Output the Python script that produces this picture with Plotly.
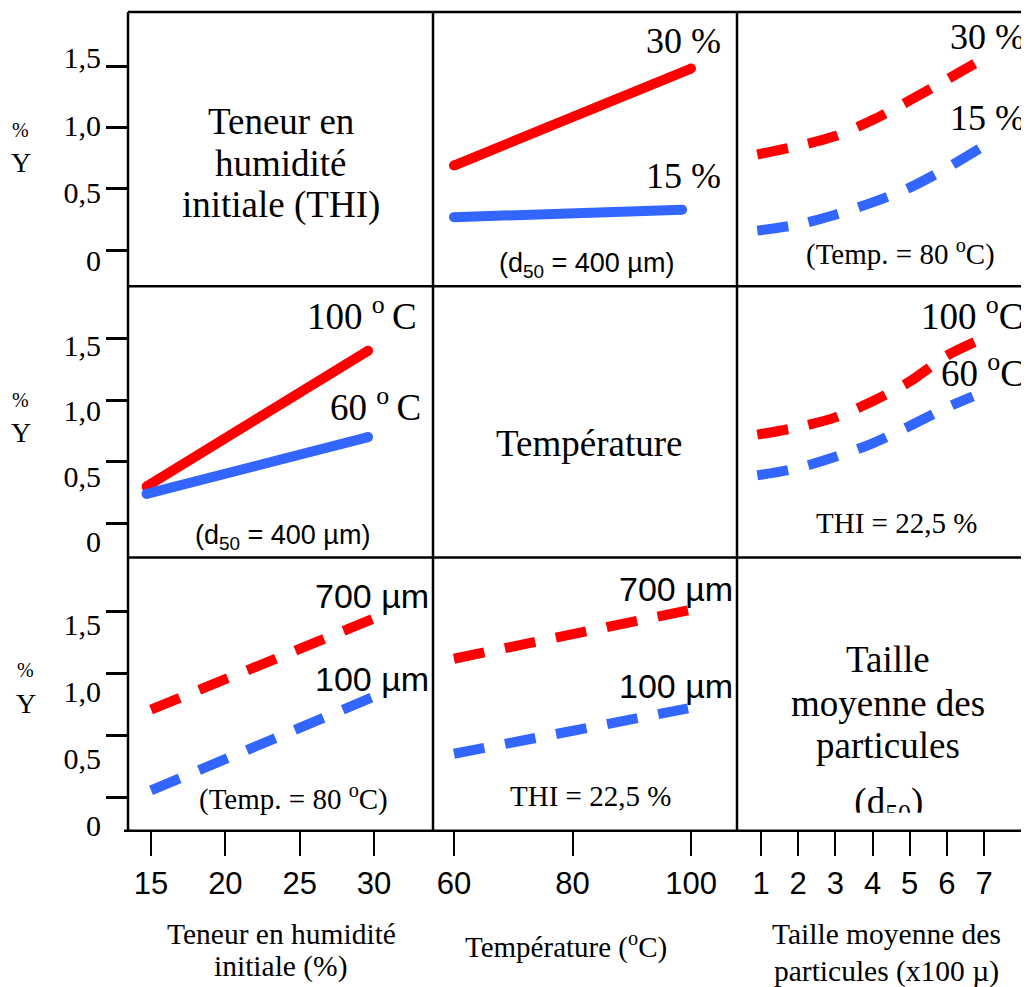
import plotly.graph_objects as go

# The page body has an 8px margin: the figure is sized and shifted to fill
# the 1029x987 window, and all positions below are in window pixels.
OFF = 8
W, H = 1029 - OFF, 987 - OFF
PAPER_H = H - 12   # effective paper height observed in the rendered page

# ---------------- data ----------------
# Row 1, col 2 : Y vs temperature, series = THI (d50 = 400 um)
temp_thi30_x = [60, 100]
temp_thi30_y = [0.69, 1.48]
temp_thi15_x = [60, 98.5]
temp_thi15_y = [0.27, 0.33]

# Row 1, col 3 : Y vs particle size, series = THI (Temp = 80 C)
size_thi30_x = [0.9, 2, 3, 4, 5, 6, 6.75]
size_thi30_y = [0.78, 0.85, 0.93, 1.06, 1.22, 1.39, 1.52]
size_thi15_x = [0.9, 2, 3, 4, 5, 6, 7]
size_thi15_y = [0.16, 0.21, 0.29, 0.39, 0.51, 0.67, 0.85]

# Row 2, col 1 : Y vs THI, series = temperature (d50 = 400 um)
thi_t100_x = [14.7, 29.6]
thi_t100_y = [0.30, 1.40]
thi_t60_x = [14.7, 29.6]
thi_t60_y = [0.24, 0.70]

# Row 2, col 3 : Y vs particle size, series = temperature (THI = 22.5 %)
size_t100_x = [0.9, 2, 3, 4, 5, 6, 6.9]
size_t100_y = [0.72, 0.78, 0.86, 0.99, 1.15, 1.36, 1.49]
size_t60_x = [0.9, 2, 3, 4, 5, 6, 6.7]
size_t60_y = [0.39, 0.45, 0.54, 0.65, 0.79, 0.94, 1.03]

# Row 3, col 1 : Y vs THI, series = d50 (Temp = 80 C)
thi_d700_x = [15, 29.9]
thi_d700_y = [0.71, 1.44]
thi_d100_x = [15, 29.9]
thi_d100_y = [0.06, 0.81]

# Row 3, col 2 : Y vs temperature, series = d50 (THI = 22.5 %)
temp_d700_x = [60, 99.5]
temp_d700_y = [1.12, 1.51]
temp_d100_x = [60, 99.5]
temp_d100_y = [0.355, 0.72]

# ticks
thi_ticks = [15, 20, 25, 30]
temp_ticks = [60, 80, 100]
size_ticks = [1, 2, 3, 4, 5, 6, 7]
y_tickvals = [0, 0.5, 1.0, 1.5]
y_ticktext = ["0", "0,5", "1,0", "1,5"]

RED = "#FF0000"
BLUE = "#3366FF"
SERIF = "Liberation Serif, Times New Roman, serif"
SANS = "Liberation Sans, Arial, sans-serif"

# ---------------- geometry (window pixels) ----------------
col_px = [128, 433, 737, 1029]
row_px = [12, 286, 557, 830]
x_ranges = [[13.45, 33.97], [56.46, 107.76], [0.354, 8.21]]
y_ranges = [[-0.293, 1.94], [-0.276, 1.922], [-0.266, 1.935]]
label_ranges = [[-0.193, 1.841], [-0.122, 1.951], [-0.037, 2.0]]
x_ticks = [thi_ticks, temp_ticks, size_ticks]


def fx(x):
    return (x - OFF) / W


def fy(y):
    return 1 - (y - OFF) / PAPER_H


fig = go.Figure()
layout = {}

for r in range(3):
    for c in range(3):
        n = r * 3 + c + 1
        sfx = "" if n == 1 else str(n)
        xa = dict(
            domain=[fx(col_px[c]), min(1.0, fx(col_px[c + 1]))],
            range=x_ranges[c],
            anchor="y" + sfx,
            showgrid=False, zeroline=False, showline=False,
            fixedrange=True,
        )
        if r == 2:
            xa.update(
                tickvals=x_ticks[c],
                ticktext=[str(v) for v in x_ticks[c]],
                ticks="outside", ticklen=24, tickwidth=2, tickcolor="black",
                tickfont=dict(family=SANS, size=31, color="black"),
                ticklabelstandoff=1,
            )
        else:
            xa.update(showticklabels=False, ticks="")
        ya = dict(
            domain=[fy(row_px[r + 1]), fy(row_px[r])],
            range=y_ranges[r],
            anchor="x" + sfx,
            showgrid=False, zeroline=False, showline=False,
            fixedrange=True,
        )
        if c == 0:
            ya.update(
                tickvals=y_tickvals, showticklabels=False,
                ticks="outside", ticklen=21, tickwidth=2.5, tickcolor="black",
            )
        else:
            ya.update(showticklabels=False, ticks="")
        layout["xaxis" + sfx] = xa
        layout["yaxis" + sfx] = ya
        fig.add_trace(go.Scatter(x=[None], y=[None], xaxis="x" + sfx, yaxis="y" + sfx,
                                 showlegend=False, hoverinfo="skip"))

# overlay axes carrying the y tick labels (placed as in the original)
for r in range(3):
    n = 10 + r
    base = r * 3 + 1
    bsfx = "" if base == 1 else str(base)
    layout["yaxis%d" % n] = dict(
        overlaying="y" + bsfx,
        anchor="x" + bsfx,
        side="left",
        range=label_ranges[r],
        tickvals=y_tickvals, ticktext=y_ticktext,
        ticks="", showgrid=False, zeroline=False, showline=False,
        tickfont=dict(family=SERIF, size=30, color="black"),
        ticklabelstandoff=26,
        fixedrange=True,
    )
    fig.add_trace(go.Scatter(x=[None], y=[None], xaxis="x" + bsfx, yaxis="y%d" % n,
                             showlegend=False, hoverinfo="skip"))

# clip axes for the cut "(d50)" text in panel (3,3)
layout["xaxis13"] = dict(domain=[fx(737), 1.0], range=[0, 1], anchor="y13",
                         visible=False, fixedrange=True)
layout["yaxis13"] = dict(domain=[fy(812), fy(557)], range=[0, 1], anchor="x13",
                         visible=False, fixedrange=True)
fig.add_trace(go.Scatter(x=[0.52], y=[0.03], xaxis="x13", yaxis="y13", mode="text",
                         text=["(d<sub>50</sub>)"], textposition="middle center",
                         textfont=dict(family=SERIF, size=37, color="black"),
                         cliponaxis=True, showlegend=False, hoverinfo="skip"))


def solid(x, y, color, ax):
    fig.add_trace(go.Scatter(
        x=x, y=y, mode="lines+markers", xaxis="x" + ax, yaxis="y" + ax,
        line=dict(color=color, width=10),
        marker=dict(color=color, size=10, line=dict(width=0)),
        showlegend=False, hoverinfo="skip"))


def dashed(x, y, color, ax):
    fig.add_trace(go.Scatter(
        x=x, y=y, mode="lines", xaxis="x" + ax, yaxis="y" + ax,
        line=dict(color=color, width=10, dash="31px,21px", shape="spline", smoothing=0.8),
        showlegend=False, hoverinfo="skip"))


solid(temp_thi30_x, temp_thi30_y, RED, "2")
solid(temp_thi15_x, temp_thi15_y, BLUE, "2")
dashed(size_thi30_x, size_thi30_y, RED, "3")
dashed(size_thi15_x, size_thi15_y, BLUE, "3")
solid(thi_t100_x, thi_t100_y, RED, "4")
solid(thi_t60_x, thi_t60_y, BLUE, "4")
dashed(size_t100_x, size_t100_y, RED, "6")
dashed(size_t60_x, size_t60_y, BLUE, "6")
dashed(thi_d700_x, thi_d700_y, RED, "7")
dashed(thi_d100_x, thi_d100_y, BLUE, "7")
dashed(temp_d700_x, temp_d700_y, RED, "8")
dashed(temp_d100_x, temp_d100_y, BLUE, "8")

# ---------------- borders ----------------
shapes = []
LW = 2.5
for i, yy in enumerate(row_px):
    x0 = 124 if i == 3 else col_px[0]
    shapes.append(dict(type="line", xref="paper", yref="paper",
                       x0=fx(x0), x1=1.0, y0=fy(yy), y1=fy(yy),
                       line=dict(color="black", width=LW)))
for xx in col_px[:3]:
    shapes.append(dict(type="line", xref="paper", yref="paper",
                       x0=fx(xx), x1=fx(xx), y0=fy(row_px[0]), y1=fy(row_px[3]),
                       line=dict(color="black", width=LW)))

# ---------------- texts ----------------
annotations = []


def ann(text, x, y, size, family=SERIF, xanchor="center"):
    annotations.append(dict(text=text, x=fx(x), y=fy(y), xref="paper", yref="paper",
                            xanchor=xanchor, yanchor="middle", showarrow=False,
                            font=dict(family=family, size=size, color="black"),
                            align="center"))


# diagonal titles (one annotation per line to keep the original line spacing)
ann("Teneur en", 281, 121, 37)
ann("humidité", 281, 163, 37)
ann("initiale (THI)", 281, 205, 37)
ann("Température", 589, 443, 37)
ann("Taille", 888, 659, 37)
ann("moyenne des", 888, 703, 37)
ann("particules", 888, 745, 37)

# panel (1,2)
ann("30 %", 723, 41, 36, xanchor="right")
ann("15 %", 723, 176, 36, xanchor="right")
ann("(d<sub>50</sub> = 400 µm)", 586, 265, 27, family=SANS)
# panel (1,3)
ann("30 %", 1027, 37, 36, xanchor="right")
ann("15 %", 1027, 118, 36, xanchor="right")
ann("(Temp. = 80 <sup>o</sup>C)", 900, 252, 29)
# panel (2,1)
ann("100 <sup>o</sup>\u2009C", 419, 313, 37, xanchor="right")
ann("60 <sup>o</sup>\u2009C", 423, 404, 37, xanchor="right")
ann("(d<sub>50</sub> = 400 µm)", 282, 536, 27, family=SANS)
# panel (2,3)
ann("100 <sup>o</sup>C", 1025, 313, 37, xanchor="right")
ann("60 <sup>o</sup>C", 1027, 370, 37, xanchor="right")
ann("THI = 22,5 %", 896, 522, 29)
# panel (3,1)
ann("700 µm", 431, 595, 34, family=SANS, xanchor="right")
ann("100 µm", 431, 678, 34, family=SANS, xanchor="right")
ann("(Temp. = 80 <sup>o</sup>C)", 293, 797, 29)
# panel (3,2)
ann("700 µm", 735, 588, 34, family=SANS, xanchor="right")
ann("100 µm", 735, 685, 34, family=SANS, xanchor="right")
ann("THI = 22,5 %", 590, 795, 29)

# y labels
for (xp, yp, yy) in [(20, 130, 162), (20, 400, 432), (25, 669, 703)]:
    ann("%", xp, yp, 20)
    ann("Y", xp + 1, yy, 28)

# bottom axis titles
ann("Teneur en humidité", 281, 933, 29.5)
ann("initiale (%)", 281, 966, 29.5)
ann("Température (<sup>o</sup>C)", 566, 945, 29)
ann("Taille moyenne des", 886, 933, 29.5)
ann("particules (x100 µ)", 886, 971, 29.5)

fig.update_layout(
    width=W, height=H,
    margin=dict(l=0, r=0, t=0, b=0),
    paper_bgcolor="white", plot_bgcolor="white",
    showlegend=False,
    shapes=shapes,
    annotations=annotations,
    **layout,
)

fig.write_html("out.html")
